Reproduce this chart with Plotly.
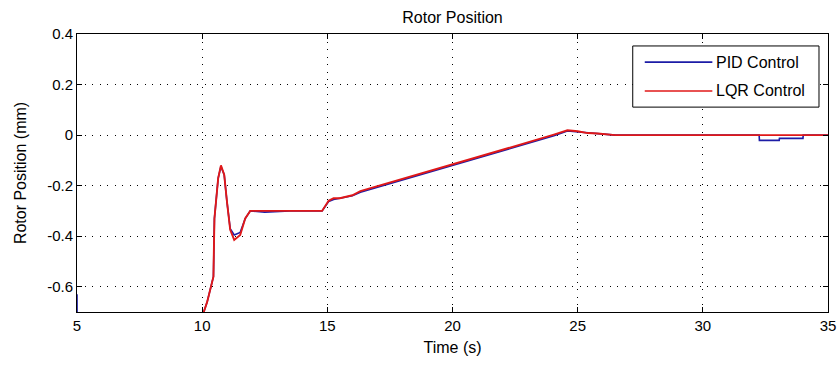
import plotly.graph_objects as go

# Time (s) and rotor position (mm)
pid_t = [5.0, 5.02, 9.95, 10.03, 10.2, 10.32, 10.45, 10.49, 10.56, 10.64, 10.75, 10.88, 10.99, 11.12,
         11.28, 11.52, 11.72, 11.92, 12.5, 13.5, 14.79, 15.05, 15.25, 15.5, 16.0, 16.32, 18.0, 20.05,
         22.0, 24.05, 24.59, 25.0, 25.4, 25.8, 26.2, 26.5, 30.0, 32.25, 32.26, 33.05, 33.06, 34.0, 34.01, 35.0]
pid_y = [-0.63, -1.2, -1.2, -0.71, -0.66, -0.61, -0.56, -0.33, -0.255, -0.17, -0.124, -0.157, -0.263, -0.37,
         -0.395, -0.385, -0.33, -0.30, -0.305, -0.30, -0.30, -0.263, -0.255, -0.25, -0.24, -0.226, -0.177, -0.118,
         -0.062, -0.003, 0.016, 0.012, 0.008, 0.006, 0.003, 0.0, 0.0, 0.0, -0.021, -0.021, -0.013, -0.013, 0.0, 0.0]

lqr_t = [9.95, 10.03, 10.2, 10.32, 10.45, 10.49, 10.56, 10.64, 10.75, 10.88, 10.99, 11.12,
         11.28, 11.52, 11.72, 11.92, 12.5, 13.5, 14.79, 15.05, 15.25, 15.5, 16.0, 16.32, 18.0, 20.05,
         22.0, 24.05, 24.59, 25.0, 25.4, 25.8, 26.2, 26.5, 30.0, 35.0]
lqr_y = [-1.2, -0.71, -0.66, -0.61, -0.56, -0.33, -0.255, -0.17, -0.12, -0.157, -0.263, -0.375,
         -0.415, -0.395, -0.33, -0.30, -0.30, -0.30, -0.30, -0.26, -0.25, -0.25, -0.238, -0.222, -0.174, -0.115,
         -0.058, 0.002, 0.019, 0.015, 0.008, 0.006, 0.003, 0.0, 0.0, 0.0]

x_ticks = [5, 10, 15, 20, 25, 30, 35]
y_ticks = [0.4, 0.2, 0, -0.2, -0.4, -0.6]
y_tick_text = ["0.4", "0.2", "0", "-0.2", "-0.4", "-0.6"]

BLUE = "#1c1ca6"
RED = "#e01818"
FONT = "Liberation Sans"

fig = go.Figure()
fig.add_trace(go.Scatter(x=pid_t, y=pid_y, mode="lines", name="PID Control",
                         line=dict(color=BLUE, width=1.6), showlegend=False))
fig.add_trace(go.Scatter(x=lqr_t, y=lqr_y, mode="lines", name="LQR Control",
                         line=dict(color=RED, width=1.9), showlegend=False))

axis_common = dict(showline=True, linecolor="black", linewidth=1, mirror="allticks",
                   ticks="inside", ticklen=5, tickcolor="black",
                   showgrid=True, gridcolor="black", gridwidth=1, griddash="1px,6.5px",
                   zeroline=False, automargin=False,
                   tickfont=dict(family=FONT, size=15, color="black"))

fig.update_xaxes(range=[5, 35], tickvals=x_ticks, **axis_common,
                 title=dict(text="Time (s)", font=dict(family=FONT, size=16, color="black"), standoff=8))
fig.update_yaxes(range=[-0.7, 0.4], tickvals=y_ticks, ticktext=y_tick_text, **axis_common,
                 title=dict(text="Rotor Position (mm)", font=dict(family=FONT, size=16, color="black"), standoff=16))

# Manual MATLAB-style legend box
lx0, lx1 = 0.740, 0.988
ly0, ly1 = 0.737, 0.957
fig.add_shape(type="rect", xref="paper", yref="paper", x0=lx0, x1=lx1, y0=ly0, y1=ly1,
              line=dict(color="black", width=1), fillcolor="white", layer="above")
for name, color, yy in [("PID Control", BLUE, 0.899), ("LQR Control", RED, 0.795)]:
    fig.add_shape(type="line", xref="paper", yref="paper", x0=0.756, x1=0.846,
                  y0=yy, y1=yy, line=dict(color=color, width=1.6), layer="above")
    fig.add_annotation(xref="paper", yref="paper", x=0.848, y=yy, text=name, showarrow=False,
                       xanchor="left", yanchor="middle",
                       font=dict(family=FONT, size=16, color="black"))

fig.update_layout(
    width=837, height=367,
    margin=dict(l=77, r=9, t=34, b=55),
    paper_bgcolor="white", plot_bgcolor="white",
    title=dict(text="Rotor Position", x=0.5, xref="paper", y=1 - 17 / 367, yanchor="middle",
               font=dict(family=FONT, size=16, color="black")),
)

fig.write_html("out.html")
